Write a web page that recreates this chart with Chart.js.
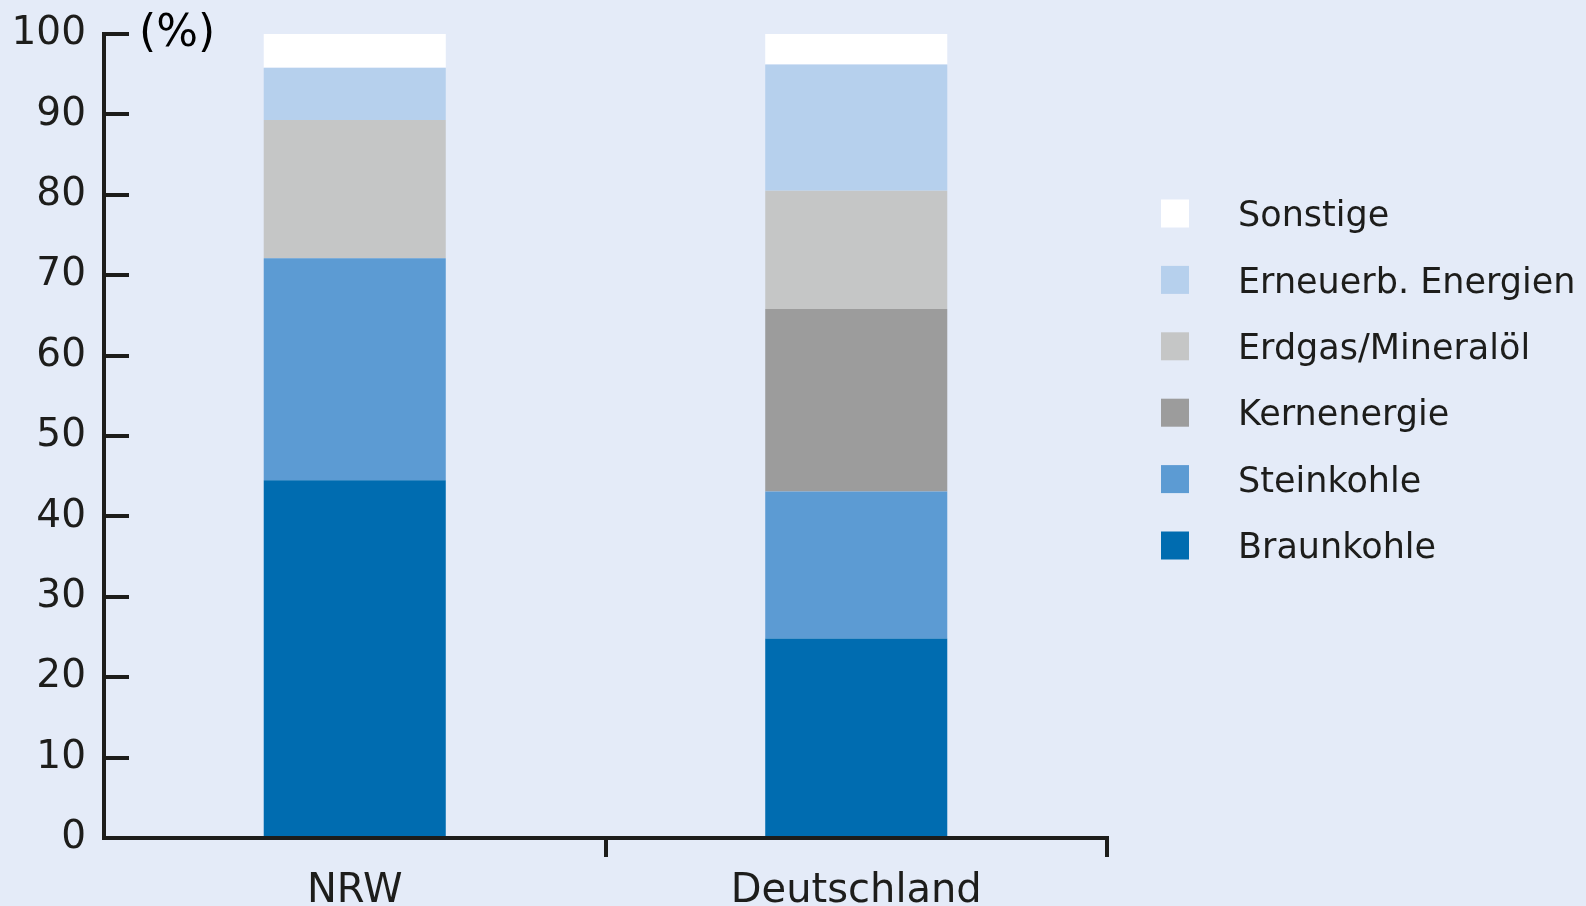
<!DOCTYPE html>
<html lang="de">
<head>
<meta charset="utf-8">
<title>Stromerzeugung nach Energieträgern</title>
<script src="https://cdn.jsdelivr.net/npm/chart.js@4"></script>
<style>
    html, body { margin: 0; padding: 0; background: #e4ebf8; }
    #wrap { width: 1586px; height: 906px; position: relative; }
</style>
</head>
<body>
<div id="wrap"><canvas id="chart"></canvas></div>
<script>
// Anteile der Energieträger an der Bruttostromerzeugung (%)
const regions = ['NRW', 'Deutschland'];
const yTicks = [0, 10, 20, 30, 40, 50, 60, 70, 80, 90, 100];

const braunkohle = [44.5, 24.8];
const steinkohle = [27.6, 18.3];
const kernenergie = [0, 22.7];
const erdgasOel = [17.2, 14.7];
const erneuerbare = [6.5, 15.7];
const sonstige = [4.2, 3.8];

const seriesNames = ['Braunkohle', 'Steinkohle', 'Kernenergie', 'Erdgas/Mineralöl', 'Erneuerb. Energien', 'Sonstige'];
const seriesData = [braunkohle, steinkohle, kernenergie, erdgasOel, erneuerbare, sonstige];
const seriesColors = ['#006cb0', '#5c9bd3', '#9c9c9c', '#c5c6c6', '#b6d0ed', '#ffffff'];

const ink = '#1d1d1b';
const fontFamily = '"DejaVu Sans", sans-serif';

// Legende rechts neben dem Diagramm, oberste Schicht zuerst
const sideLegend = {
    id: 'sideLegend',
    afterDraw(chart, args, opts) {
        const ctx = chart.ctx;
        const items = chart.data.datasets.slice().reverse();
        ctx.save();
        ctx.font = opts.size + 'px ' + fontFamily;
        ctx.textBaseline = 'alphabetic';
        ctx.textAlign = 'left';
        items.forEach((ds, i) => {
            const cy = opts.top + i * opts.rowGap;
            ctx.fillStyle = ds.backgroundColor;
            ctx.fillRect(opts.boxX, cy - opts.box / 2, opts.box, opts.box);
            ctx.fillStyle = ink;
            ctx.fillText(ds.label, opts.textX, cy + opts.size * 0.729 / 2);
        });
        ctx.restore();
    }
};

// Einheit oben an der y-Achse
const unitLabel = {
    id: 'unitLabel',
    afterDraw(chart, args, opts) {
        const ctx = chart.ctx;
        const yScale = chart.scales.y;
        ctx.save();
        ctx.font = opts.size + 'px ' + fontFamily;
        ctx.fillStyle = '#000';
        ctx.textAlign = 'left';
        ctx.textBaseline = 'middle';
        ctx.fillText(opts.text, yScale.right + opts.dx, yScale.getPixelForValue(100) + opts.dy);
        ctx.restore();
    }
};

new Chart(document.getElementById('chart'), {
    type: 'bar',
    data: {
        labels: regions,
        datasets: seriesNames.map((name, i) => ({
            label: name,
            data: seriesData[i],
            backgroundColor: seriesColors[i],
            borderWidth: 0,
            barPercentage: 1,
            categoryPercentage: 0.363
        }))
    },
    options: {
        responsive: true,
        maintainAspectRatio: false,
        animation: false,
        layout: { padding: { top: 34, right: 479, bottom: 0, left: 0 } },
        plugins: {
            legend: { display: false },
            tooltip: { enabled: true },
            sideLegend: { boxX: 1161, textX: 1238, top: 213.5, rowGap: 66.4, box: 28, size: 35 },
            unitLabel: { text: '(%)', size: 44, dx: 35, dy: 1 }
        },
        scales: {
            x: {
                stacked: true,
                border: { display: true, color: ink, width: 4 },
                grid: {
                    offset: true,
                    drawOnChartArea: false,
                    tickLength: 19,
                    lineWidth: 4,
                    color: ctx => ctx.index === 0 ? 'rgba(0,0,0,0)' : ink
                },
                ticks: { padding: 11, color: ink, font: { family: fontFamily, size: 40 } },
                afterFit: scale => {
                    scale.height = 68;
                    scale.paddingLeft = 0;
                    scale.paddingRight = 0;
                }
            },
            y: {
                stacked: true,
                min: 0,
                max: 100,
                afterBuildTicks: scale => { scale.ticks = yTicks.map(v => ({ value: v })); },
                border: { display: true, color: ink, width: 4 },
                grid: {
                    drawOnChartArea: false,
                    tickLength: -25,
                    lineWidth: 4,
                    color: ink
                },
                ticks: { padding: 43, color: ink, font: { family: fontFamily, size: 39 } },
                afterFit: scale => {
                    scale.width = 104;
                    scale.paddingTop = 0;
                    scale.paddingBottom = 0;
                }
            }
        }
    },
    plugins: [sideLegend, unitLabel]
});
</script>
</body>
</html>
